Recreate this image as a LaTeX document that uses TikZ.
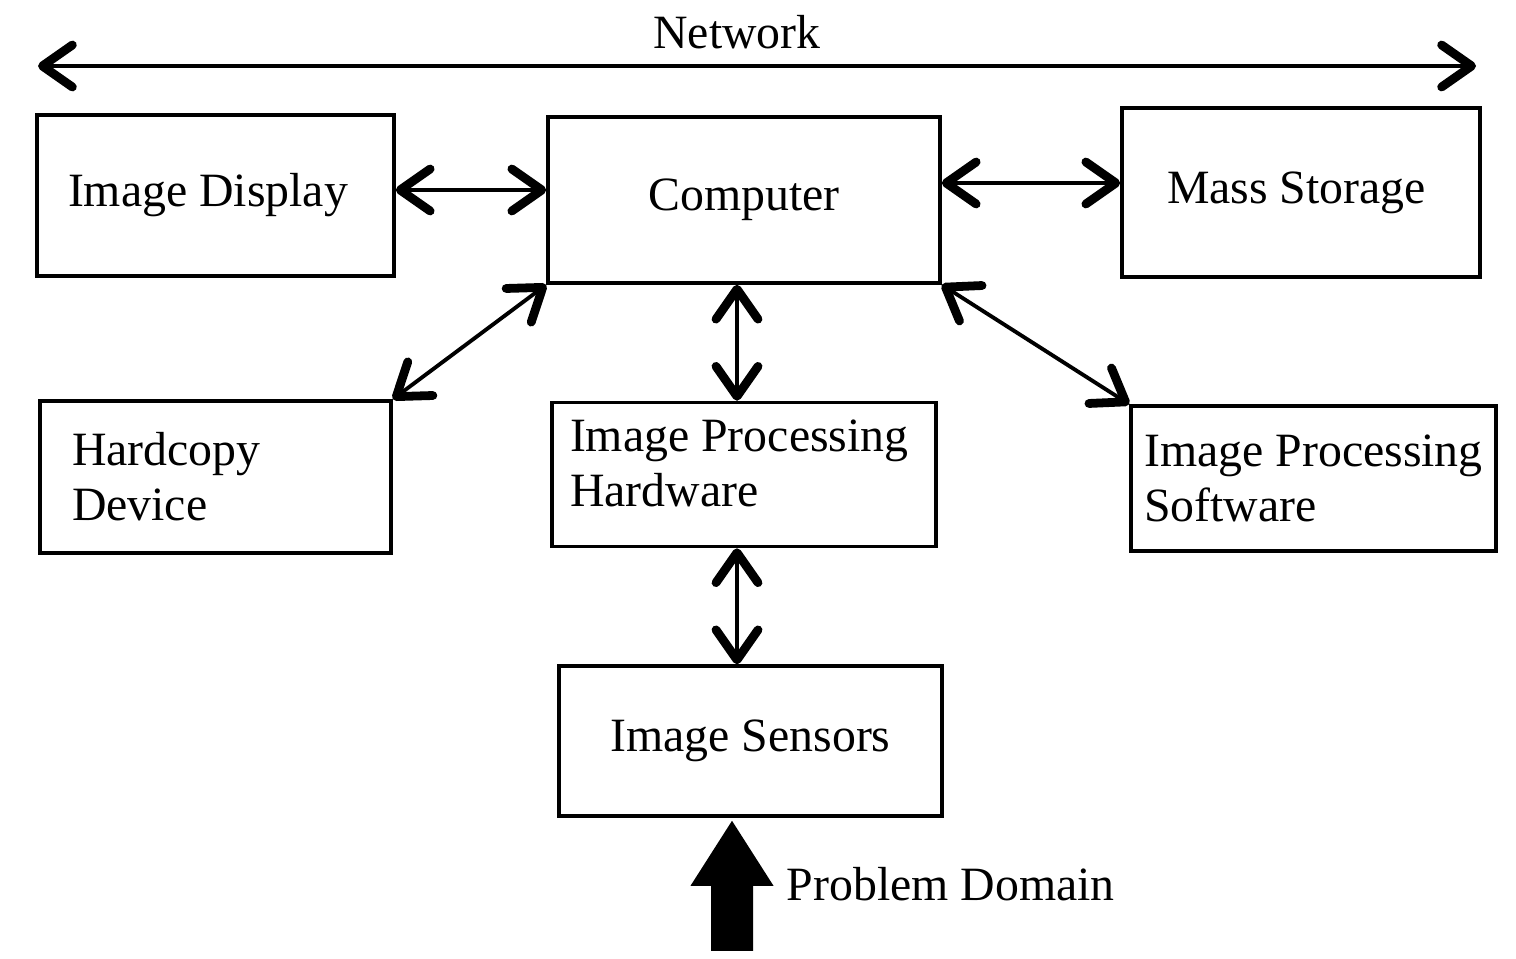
\documentclass[tikz,border=0pt]{standalone}
\usepackage{fontspec}
\setmainfont{Liberation Serif}
\usepackage{tikz}
\usetikzlibrary{arrows.meta, positioning}

\tikzset{
  barb/.tip={Straight Barb[length=0.3cm, width=0.42cm, line width=2.5pt, round]}
}

\begin{document}
\begin{tikzpicture}[font=\fontsize{13.6}{15.6}\selectfont,
        box/.style={draw, line width=1pt, inner sep=0pt, align=flush left},
        link/.style={barb-barb, line width=1.1pt}]
      \useasboundingbox (0,0) rectangle (15.16,-9.59);
      % top row
      \node[box, minimum width=3.92cm, minimum height=1.66cm] (comp) at (7.44,-2.00) {Computer};
      \node[box, minimum width=3.57cm, minimum height=1.61cm, text width=2.95cm] (disp) at (2.155,-1.955) {Image Display};
      \node[box, minimum width=3.58cm, minimum height=1.69cm, text width=2.68cm] (mass) at (13.01,-1.925) {Mass Storage};
      % middle row
      \node[box, minimum width=3.51cm, minimum height=1.52cm, text width=2.87cm] (hard) at (2.155,-4.77) {Hardcopy\\Device};
      \node[box, minimum width=3.84cm, minimum height=1.44cm, text width=3.48cm, text depth=0.78cm,
            below=1.16cm of comp] (iph) {Image Processing\\Hardware};
      \node[box, minimum width=3.65cm, minimum height=1.45cm] (ips) at (13.135,-4.785) {Image Processing\\Software};
      % bottom
      \node[box, minimum width=3.83cm, minimum height=1.50cm, below=1.16cm of iph, xshift=0.065cm] (sens) {Image Sensors};
      \node[anchor=west, inner sep=0pt] (domain) at (7.86,-8.84) {Problem Domain};
      % network
      \coordinate (netL) at (0.38,-0.66);
      \coordinate (netR) at (14.76,-0.66);
      \node (net) at (7.37,-0.32) {Network};
      \draw[link] (netL) -- (netR);
      % connectors
      \draw[link] ([yshift=0.1cm]comp.west -| disp.east) -- ([yshift=0.1cm]comp.west);
      \draw[link] ([yshift=0.17cm]comp.east) -- ([yshift=0.17cm]comp.east -| mass.west);
      \draw[link] (comp.south west) -- (hard.north east);
      \draw[link] (comp.south east) -- (ips.north west);
      \draw[link] ([xshift=-0.07cm]comp.south) -- ([xshift=-0.07cm]comp.south |- iph.north);
      \draw[link] ([xshift=-0.07cm]iph.south) -- ([xshift=-0.07cm]iph.south |- sens.north);
      % input arrow
      \fill ([xshift=-0.185cm,yshift=-0.03cm]sens.south) -- ++(0.415,-0.65) -- ++(-0.205,0)
        -- ++(0,-0.65) -- ++(-0.42,0) -- ++(0,0.65) -- ++(-0.205,0) -- cycle;
\end{tikzpicture}
\end{document}
